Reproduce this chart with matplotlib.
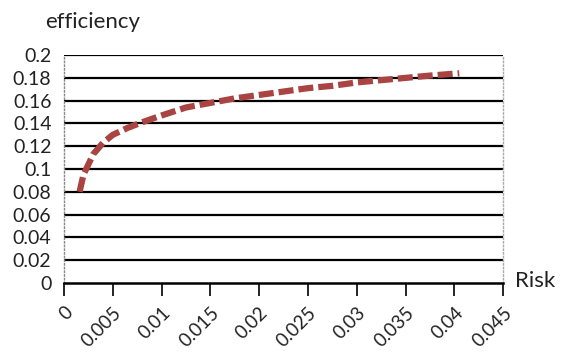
import matplotlib.pyplot as plt
import matplotlib.ticker as ticker

plt.rcParams['font.family'] = ['Lato', 'DejaVu Sans']

# Efficient frontier
risk = [0.0016, 0.002, 0.003, 0.004, 0.005, 0.0065, 0.008, 0.01, 0.0125, 0.015,
        0.0175, 0.02, 0.0225, 0.025, 0.0275, 0.03, 0.0325, 0.035, 0.0375, 0.0405]
efficiency = [0.08, 0.095, 0.113, 0.123, 0.130, 0.136, 0.141, 0.147, 0.154, 0.158,
              0.162, 0.165, 0.168, 0.171, 0.173, 0.176, 0.178, 0.180, 0.182, 0.184]

x_ticks = [0, 0.005, 0.01, 0.015, 0.02, 0.025, 0.03, 0.035, 0.04, 0.045]
x_labels = ['0', '0.005', '0.01', '0.015', '0.02', '0.025', '0.03', '0.035', '0.04', '0.045']
y_ticks = [0, 0.02, 0.04, 0.06, 0.08, 0.1, 0.12, 0.14, 0.16, 0.18, 0.2]
y_labels = ['0', '0.02', '0.04', '0.06', '0.08', '0.1', '0.12', '0.14', '0.16', '0.18', '0.2']

fig = plt.figure(figsize=(5.61, 3.6), dpi=100)
ax = fig.add_axes([0.114, 0.214, 0.783, 0.633])

# horizontal grid lines
for y in y_ticks[1:]:
    ax.axhline(y, color='black', linewidth=1.6, zorder=1)

ax.plot(risk, efficiency, color='#A94442', linewidth=4.5,
        linestyle=(0, (2.4, 0.8)), solid_capstyle='butt', dash_capstyle='butt', zorder=3)

ax.set_xlim(0, 0.045)
ax.set_ylim(0, 0.2)
ax.set_xticks(x_ticks)
ax.set_xticklabels(x_labels, rotation=45, ha='right', rotation_mode='anchor')
ax.set_yticks(y_ticks)
ax.set_yticklabels(y_labels)
ax.tick_params(axis='x', length=9, width=1.2, direction='out', labelsize=13.5,
               pad=6, labelcolor='#222222')
ax.tick_params(axis='y', length=0, labelsize=14, pad=9, labelcolor='#222222')

ax.spines['top'].set_visible(False)
ax.spines['bottom'].set_linewidth(1.8)
ax.spines['left'].set_color('#888888')
ax.spines['left'].set_linestyle(':')
ax.spines['left'].set_linewidth(1)
ax.spines['right'].set_color('#aaaaaa')
ax.spines['right'].set_linestyle(':')
ax.spines['right'].set_linewidth(1)

fig.text(0.08, 0.94, 'efficiency', fontsize=16, va='center', ha='left', color='#222222')
fig.text(0.918, 0.22, 'Risk', fontsize=16, va='center', ha='left', color='#222222')

plt.savefig('out.png', dpi=100)
